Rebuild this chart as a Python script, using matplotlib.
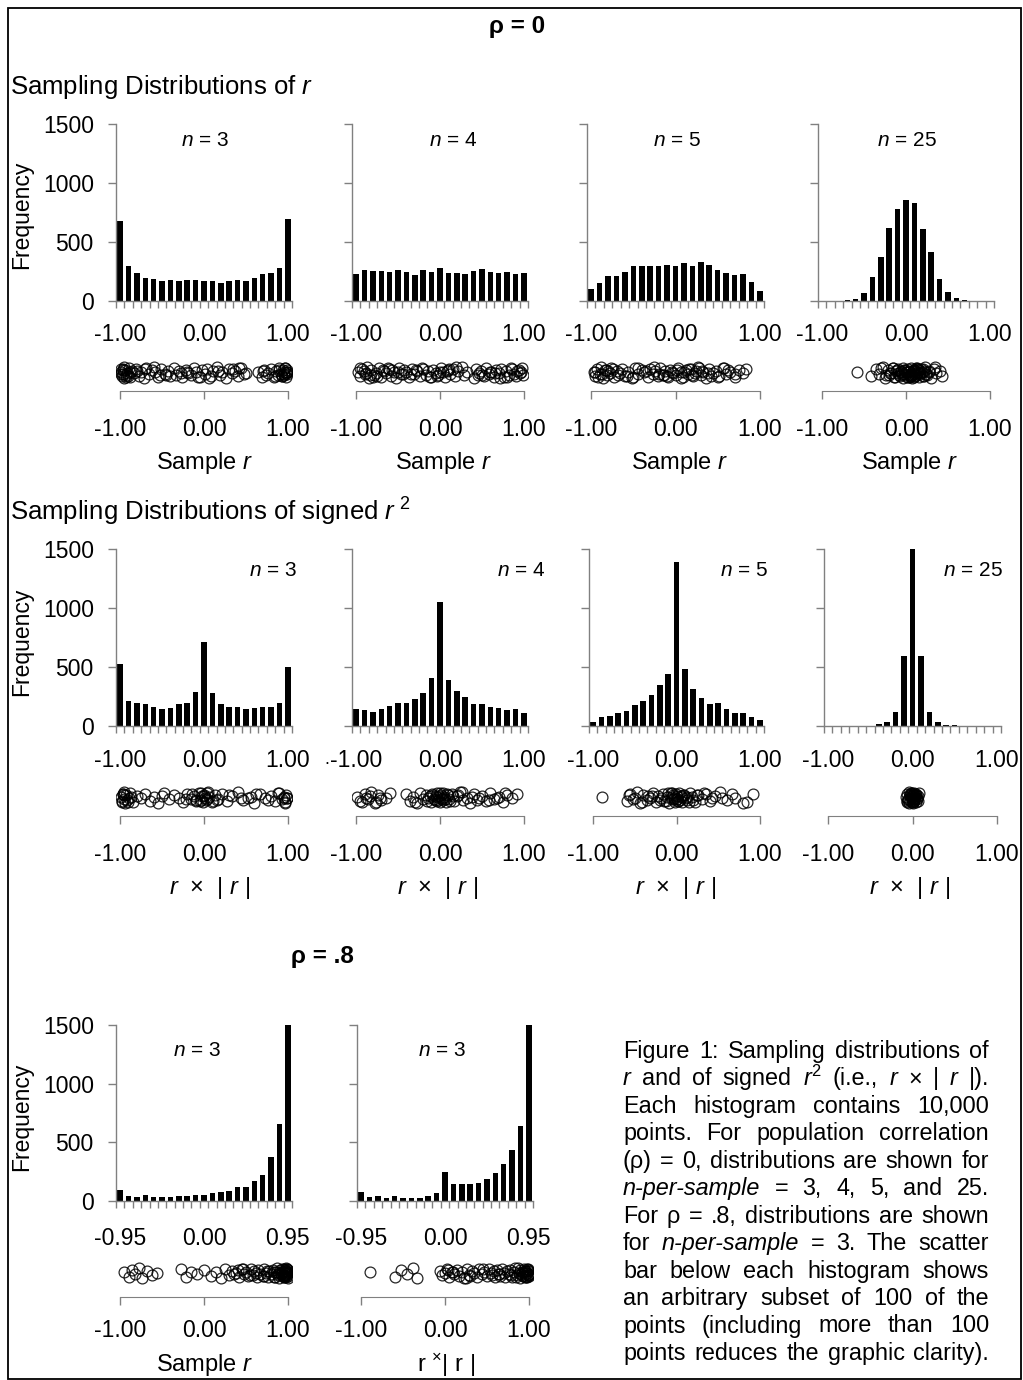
import numpy as np
import matplotlib.pyplot as plt
from matplotlib.patches import Rectangle

plt.rcParams['font.family'] = ['Liberation Sans', 'DejaVu Sans']
plt.rcParams['mathtext.fontset'] = 'custom'
plt.rcParams['mathtext.rm'] = 'Liberation Sans'
plt.rcParams['mathtext.it'] = 'Liberation Sans:italic'
plt.rcParams['mathtext.bf'] = 'Liberation Sans:bold'

W, H = 1023, 1380
GRAY = '#808080'

# ---- histogram counts (21 bins each) ----
# rho = 0, sample r
R_N3 = [679, 294, 241, 198, 190, 170, 175, 170, 175, 181, 170, 170, 153, 167, 181, 170, 198, 232, 241, 280, 693]
R_N4 = [226, 260, 252, 252, 243, 260, 243, 221, 266, 243, 277, 235, 235, 226, 252, 269, 243, 235, 243, 226, 235]
R_N5 = [99, 153, 209, 209, 249, 294, 300, 300, 300, 308, 297, 323, 294, 328, 303, 260, 241, 221, 226, 158, 82]
R_N25 = [0, 0, 0, 5, 20, 65, 201, 371, 620, 781, 855, 829, 614, 419, 190, 74, 23, 6, 0, 0, 0]
# rho = 0, signed r^2
S_N3 = [527, 215, 198, 184, 164, 142, 156, 190, 198, 289, 710, 283, 184, 164, 164, 142, 150, 164, 164, 198, 498]
S_N4 = [142, 133, 122, 147, 173, 198, 198, 229, 283, 408, 1047, 391, 300, 243, 184, 190, 164, 156, 139, 147, 108]
S_N5 = [31, 74, 82, 108, 130, 178, 209, 260, 345, 439, 1392, 484, 317, 235, 187, 192, 142, 110, 110, 74, 48]
S_N25 = [0, 0, 0, 0, 0, 0, 14, 31, 122, 589, 1500, 589, 122, 31, 8, 6, 0, 0, 0, 0, 0]
# rho = .8, n = 3
P8_R = [91, 43, 31, 51, 31, 31, 31, 40, 40, 51, 51, 68, 77, 83, 120, 120, 168, 222, 373, 660, 1500]
P8_S = [74, 34, 40, 26, 40, 26, 26, 26, 40, 65, 245, 145, 145, 145, 154, 185, 239, 316, 438, 635, 1500]

LABELS_R = ['-1.00', '0.00', '1.00']
LABELS_95 = ['-0.95', '0.00', '0.95']
YTICKS = [0, 500, 1000, 1500]

# ---- scatter-bar subsets (x values) ----
DOT_R_N3 = [-0.99, -0.98, -0.97, -0.97, -0.96, -0.95, -0.94, -0.93, -0.92, -0.9, -0.88, -0.86, -0.84, -0.81,
            -0.78, -0.75, -0.72, -0.69, -0.66, -0.62, -0.58, -0.55, -0.51, -0.47, -0.43, -0.4, -0.36, -0.33,
            -0.3, -0.26, -0.22, -0.19, -0.15, -0.12, -0.09, -0.05, -0.02, 0.01, 0.04, 0.08, 0.11, 0.15, 0.19,
            0.22, 0.26, 0.3, 0.33, 0.37, 0.4, 0.44, 0.48, 0.65, 0.69, 0.72, 0.76, 0.8, 0.83, 0.86, 0.88, 0.9,
            0.92, 0.93, 0.94, 0.95, 0.96, 0.97, 0.98, 0.98, 0.99, 0.99, -0.995, -0.985, -0.91, -0.8, -0.6,
            -0.45, -0.2, 0.06, 0.35, 0.5, 0.7, 0.85, 0.97, 0.995, -0.97, -0.93, -0.88, -0.7, -0.52, -0.28,
            -0.07, 0.17, 0.42, 0.74, 0.9, 0.96, 0.99, 0.93]
DOT_R_N4 = [-0.98, -0.95, -0.93, -0.9, -0.87, -0.85, -0.82, -0.79, -0.76, -0.73, -0.7, -0.67, -0.64, -0.61,
            -0.58, -0.55, -0.52, -0.49, -0.46, -0.43, -0.4, -0.37, -0.34, -0.31, -0.27, -0.24, -0.21, -0.17,
            -0.14, -0.11, -0.08, -0.05, -0.02, 0.01, 0.03, 0.06, 0.09, 0.12, 0.15, 0.18, 0.21, 0.26, 0.29,
            0.32, 0.4, 0.43, 0.46, 0.49, 0.52, 0.55, 0.58, 0.61, 0.64, 0.67, 0.7, 0.73, 0.76, 0.79, 0.82,
            0.85, 0.88, 0.91, 0.94, 0.97, 0.99, -0.96, -0.88, -0.8, -0.68, -0.5, -0.35, -0.2, -0.04, 0.08,
            0.19, 0.45, 0.6, 0.72, 0.86, 0.95, -0.91, -0.75, -0.62, -0.44, -0.29, -0.12, 0.0, 0.11, 0.5,
            0.66, 0.8, 0.92, 0.98, -0.84, -0.57]
DOT_R_N5 = [-0.97, -0.95, -0.93, -0.9, -0.88, -0.86, -0.84, -0.81, -0.78, -0.76, -0.73, -0.7, -0.66, -0.63,
            -0.6, -0.56, -0.52, -0.48, -0.44, -0.4, -0.37, -0.33, -0.3, -0.27, -0.24, -0.21, -0.18, -0.15,
            -0.12, -0.09, -0.06, -0.03, 0.0, 0.03, 0.06, 0.09, 0.12, 0.15, 0.18, 0.21, 0.24, 0.27, 0.3, 0.33,
            0.36, 0.4, 0.44, 0.48, 0.52, 0.56, 0.6, 0.65, 0.7, 0.75, 0.8, 0.84, -0.92, -0.8, -0.68, -0.45,
            -0.2, -0.1, 0.02, 0.1, 0.2, 0.28, 0.38, 0.5, 0.62, -0.96, -0.87, -0.74, -0.58, -0.35, -0.25,
            -0.14, -0.04, 0.07, 0.16, 0.23, 0.31, 0.42, 0.57, 0.71, -0.82, -0.5]
DOT_R_N25 = [-0.58, -0.42, -0.36, -0.32, -0.28, -0.25, -0.22, -0.2, -0.18, -0.16, -0.14, -0.12, -0.1, -0.09,
             -0.07, -0.06, -0.04, -0.03, -0.02, -0.01, 0.0, 0.01, 0.02, 0.03, 0.04, 0.05, 0.06, 0.07, 0.08,
             0.09, 0.1, 0.11, 0.12, 0.13, 0.14, 0.15, 0.16, 0.17, 0.18, 0.2, 0.21, 0.23, 0.25, 0.27, 0.3,
             0.33, 0.36, 0.4, 0.43, -0.15, -0.05, 0.0, 0.05, 0.1, 0.15, 0.2, 0.02, 0.08, -0.08, 0.12, 0.24,
             0.06, -0.11, 0.19, 0.03, -0.3, -0.19, -0.13, -0.02, 0.04, 0.09, 0.14, 0.22, 0.28, 0.35, -0.24,
             0.01, 0.07, 0.13, 0.17, -0.06, 0.11]
DOT_S_N3 = [-0.99, -0.98, -0.97, -0.96, -0.95, -0.94, -0.93, -0.92, -0.9, -0.88, -0.85, -0.8, -0.75, -0.7,
            -0.65, -0.6, -0.55, -0.48, -0.42, -0.36, -0.3, -0.25, -0.2, -0.16, -0.12, -0.09, -0.06, -0.04,
            -0.02, -0.01, 0.0, 0.01, 0.02, 0.04, 0.06, 0.09, 0.13, 0.17, 0.22, 0.27, 0.33, 0.4, 0.47, 0.53,
            0.6, 0.67, 0.73, 0.8, 0.85, 0.9, 0.93, 0.95, 0.97, 0.98, 0.99, -0.97, -0.91, -0.5, -0.1, -0.03,
            0.03, 0.11, 0.3, 0.56, 0.76, 0.88, 0.96, -0.98, -0.95, -0.87, -0.22, -0.14, -0.05, 0.0, 0.05,
            0.15, 0.99, 0.97, 0.62, 0.44]
DOT_S_N4 = [-0.99, -0.95, -0.9, -0.86, -0.82, -0.78, -0.74, -0.7, -0.65, -0.6, -0.93, -0.84, -0.72, -0.4,
            -0.36, -0.32, -0.28, -0.24, -0.2, -0.17, -0.14, -0.11, -0.09, -0.07, -0.05, -0.04, -0.03, -0.02,
            -0.01, 0.0, 0.01, 0.02, 0.03, 0.04, 0.05, 0.07, 0.09, 0.11, 0.14, 0.17, 0.2, 0.24, 0.28, 0.32,
            0.36, 0.41, 0.46, 0.5, 0.55, 0.6, 0.65, 0.7, 0.75, 0.8, 0.86, 0.92, -0.3, -0.12, -0.06, 0.0,
            0.06, 0.12, 0.22, 0.38, 0.58, 0.78, -0.88, -0.76, -0.08, -0.03, 0.02, 0.08, -0.15, 0.15, 0.26,
            0.44, 0.68]
DOT_S_N5 = [-0.89, -0.6, -0.56, -0.52, -0.48, -0.44, -0.4, -0.36, -0.32, -0.28, -0.25, -0.22, -0.19, -0.16,
            -0.13, -0.11, -0.09, -0.07, -0.05, -0.04, -0.03, -0.02, -0.01, 0.0, 0.01, 0.02, 0.03, 0.04, 0.05,
            0.07, 0.09, 0.11, 0.13, 0.16, 0.19, 0.22, 0.26, 0.3, 0.35, 0.4, 0.46, 0.52, 0.6, 0.7, 0.8, 0.92,
            -0.5, -0.3, -0.15, -0.06, 0.0, 0.06, 0.15, 0.25, 0.42, 0.66, -0.42, -0.34, -0.2, -0.1, -0.03,
            0.02, 0.08, 0.12, 0.2, 0.33, 0.55, 0.85, -0.57, -0.05]
DOT_S_N25 = [-0.08, -0.07, -0.06, -0.05, -0.04, -0.04, -0.03, -0.03, -0.02, -0.02, -0.01, -0.01, 0.0, 0.0,
             0.0, 0.01, 0.01, 0.02, 0.02, 0.03, 0.03, 0.04, 0.04, 0.05, 0.06, 0.07, 0.08, -0.05, -0.02, 0.0,
             0.02, 0.05, 0.01, -0.01, 0.03, -0.06, 0.04, 0.0, -0.03, 0.02]
DOT_P8_R = [-0.95, -0.9, -0.86, -0.82, -0.78, -0.74, -0.68, -0.62, -0.56, -0.28, -0.22, -0.15, -0.08, 0.0,
            0.08, 0.14, 0.2, 0.25, 0.3, 0.34, 0.38, 0.42, 0.45, 0.48, 0.5, 0.53, 0.56, 0.58, 0.6, 0.63, 0.65,
            0.67, 0.7, 0.72, 0.74, 0.76, 0.78, 0.8, 0.82, 0.84, 0.86, 0.87, 0.88, 0.89, 0.9, 0.91, 0.92, 0.93,
            0.94, 0.95, 0.95, 0.96, 0.96, 0.97, 0.97, 0.98, 0.98, 0.98, 0.99, 0.99, 0.99, 1.0, 1.0, 1.0, 0.97,
            0.93, 0.88, 0.85, 0.75, 0.62, 0.55, 0.4, 0.96, 0.99, 0.98, 0.94, 0.99, 1.0, 0.97, 0.92, 0.83,
            0.71, 0.46, 0.36]
DOT_P8_S = [-0.9, -0.6, -0.52, -0.45, -0.38, -0.33, -0.06, -0.03, 0.0, 0.02, 0.05, 0.08, 0.11, 0.14, 0.17,
            0.2, 0.23, 0.26, 0.29, 0.32, 0.35, 0.38, 0.41, 0.44, 0.47, 0.5, 0.53, 0.56, 0.58, 0.6, 0.62, 0.64,
            0.66, 0.68, 0.7, 0.72, 0.74, 0.76, 0.78, 0.8, 0.82, 0.84, 0.86, 0.88, 0.89, 0.9, 0.91, 0.92, 0.93,
            0.94, 0.95, 0.96, 0.96, 0.97, 0.97, 0.98, 0.98, 0.99, 0.99, 0.99, 1.0, 1.0, 0.04, 0.1, 0.3, 0.45,
            0.65, 0.85, 0.95, 0.98, 1.0, 0.99, 0.97, 0.93, 0.87, 0.79, 0.55, 0.25]
# vertical jitter of the circles (0.33 .. 0.67)
JITTER = [0.52, 0.38, 0.61, 0.45, 0.66, 0.33, 0.57, 0.42, 0.49, 0.63, 0.36, 0.55, 0.47, 0.6, 0.4, 0.53, 0.34,
          0.64, 0.44, 0.58, 0.5, 0.37, 0.62, 0.46, 0.54, 0.39, 0.65, 0.43, 0.56, 0.35, 0.59, 0.48, 0.41, 0.63,
          0.51, 0.36, 0.57, 0.45, 0.61, 0.38, 0.54, 0.66, 0.42, 0.5, 0.34, 0.6, 0.47, 0.55, 0.4, 0.64, 0.44,
          0.52, 0.37, 0.58, 0.49, 0.62, 0.35, 0.56, 0.43, 0.65, 0.46, 0.39, 0.59, 0.53, 0.41, 0.63, 0.48, 0.36,
          0.57, 0.51, 0.44, 0.61, 0.38, 0.55, 0.66, 0.42, 0.5, 0.34, 0.6, 0.47, 0.54, 0.4, 0.64, 0.45, 0.58,
          0.37, 0.52, 0.62, 0.43, 0.49, 0.35, 0.56, 0.65, 0.41, 0.59, 0.46, 0.53, 0.39, 0.63, 0.48]

CAPTION = [
    [('Figure', 0), ('1:', 0), ('Sampling', 0), ('distributions', 0), ('of', 0)],
    [('r', 1), ('and', 0), ('of', 0), ('signed', 0), (r'$\mathit{r}^{2}$', 0), ('(i.e.,', 0), ('r', 1),
     ('×', 0), ('|', 0), ('r', 1), ('|).', 0)],
    [('Each', 0), ('histogram', 0), ('contains', 0), ('10,000', 0)],
    [('points.', 0), ('For', 0), ('population', 0), ('correlation', 0)],
    [('(ρ)', 0), ('=', 0), ('0,', 0), ('distributions', 0), ('are', 0), ('shown', 0), ('for', 0)],
    [('n-per-sample', 1), ('=', 0), ('3,', 0), ('4,', 0), ('5,', 0), ('and', 0), ('25.', 0)],
    [('For', 0), ('ρ', 0), ('=', 0), ('.8,', 0), ('distributions', 0), ('are', 0), ('shown', 0)],
    [('for', 0), ('n-per-sample', 1), ('=', 0), ('3.', 0), ('The', 0), ('scatter', 0)],
    [('bar', 0), ('below', 0), ('each', 0), ('histogram', 0), ('shows', 0)],
    [('an', 0), ('arbitrary', 0), ('subset', 0), ('of', 0), ('100', 0), ('of', 0), ('the', 0)],
    [('points', 0), ('(including', 0), ('more', 0), ('than', 0), ('100', 0)],
    [('points', 0), ('reduces', 0), ('the', 0), ('graphic', 0), ('clarity).', 0)],
]

fig = plt.figure(figsize=(W / 100, H / 100), dpi=100)


def px_axes(x0, y0, x1, y1):
    return fig.add_axes([x0 / W, 1 - y1 / H, (x1 - x0) / W, (y1 - y0) / H])


def ftext(x, y, s, **kw):
    return fig.text(x / W, 1 - y / H, s, **kw)


def histogram(x0, x1, ytop, ybot, counts, labels, pad, show_y):
    ax = px_axes(x0, ytop, x1, ybot)
    ax.bar(np.arange(len(counts)), counts, width=0.66, color='black', linewidth=0)
    ax.set_xlim(-0.5, len(counts) - 0.5)
    ax.set_ylim(0, 1500)
    for s in ['top', 'right']:
        ax.spines[s].set_visible(False)
    for s in ['left', 'bottom']:
        ax.spines[s].set_color(GRAY)
        ax.spines[s].set_linewidth(1)
    ax.set_xticks([0, 10, 20])
    ax.set_xticklabels(labels)
    ax.set_xticks(np.arange(-0.5, len(counts)), minor=True)
    ax.tick_params(axis='x', which='major', length=0, pad=pad, labelsize=16.5)
    ax.tick_params(axis='x', which='minor', length=5, width=1, color=GRAY, direction='out')
    ax.set_yticks(YTICKS)
    ax.tick_params(axis='y', length=6, width=1, color=GRAY, pad=10, labelsize=16.5)
    if not show_y:
        ax.set_yticklabels([])
    ax.patch.set_visible(False)
    return ax


def scatter_bar(x0, x1, yline, xs, c, s, pad):
    h = 45
    ax = px_axes(x0, yline - h, x1, yline)
    ax.plot(xs, JITTER[:len(xs)], 'o', ms=7.8, mfc='none', mec='black', mew=0.9, alpha=0.85)
    span = 0.34 * h / s
    lo = 0.5 - c * span / h
    ax.set_ylim(lo, lo + span)
    ax.set_xlim(-1.05, 1.05)
    for sp in ['top', 'right', 'left']:
        ax.spines[sp].set_visible(False)
    ax.spines['bottom'].set_bounds(-1, 1)
    ax.spines['bottom'].set_color(GRAY)
    ax.set_yticks([])
    ax.set_xticks([-1, 0, 1])
    ax.set_xticklabels(LABELS_R)
    ax.tick_params(axis='x', length=6, width=1, color=GRAY, pad=pad, labelsize=16.5)
    ax.patch.set_visible(False)
    return ax


# ---- rho = 0 : sample r ----
row1 = [(116, 292, R_N3, DOT_R_N3), (352, 528, R_N4, DOT_R_N4),
        (587, 764, R_N5, DOT_R_N5), (818, 994, R_N25, DOT_R_N25)]
for i, (x0, x1, cnt, dots) in enumerate(row1):
    histogram(x0, x1, 124, 301, cnt, LABELS_R, 15.5, i == 0)
    scatter_bar(x0, x1, 391, dots, 18.5, 11, 13.5)

# ---- rho = 0 : signed r^2 ----
row2 = [(116, 292, S_N3, DOT_S_N3), (352, 528, S_N4, DOT_S_N4),
        (589, 764, S_N5, DOT_S_N5), (824, 1001, S_N25, DOT_S_N25)]
for i, (x0, x1, cnt, dots) in enumerate(row2):
    histogram(x0, x1, 549, 726, cnt, LABELS_R, 16.5, i == 0)
    scatter_bar(x0, x1, 816, dots, 18.5, 11, 13.5)

# ---- rho = .8 ----
row3 = [(116, 292, P8_R, DOT_P8_R), (357, 533, P8_S, DOT_P8_S)]
for i, (x0, x1, cnt, dots) in enumerate(row3):
    histogram(x0, x1, 1025, 1201, cnt, LABELS_95, 18.5, i == 0)
    scatter_bar(x0, x1, 1297, dots, 24, 10, 9.5)

# ---- texts ----
ftext(517, 27, 'ρ = 0', fontsize=17.5, fontweight='bold', ha='center', va='center')
ftext(322, 957, 'ρ = .8', fontsize=17.5, fontweight='bold', ha='center', va='center')
ftext(10, 87, r'Sampling Distributions of $\mathit{r}$', fontsize=18.5, ha='left', va='center')
ftext(10, 512, r'Sampling Distributions of signed $\mathit{r}^{\ \mathit{2}}$', fontsize=18.5,
      ha='left', va='center')

for y in [215, 642, 1117]:
    ftext(22, y, 'Frequency', fontsize=16.5, rotation=90, ha='center', va='center')

for x, lab in zip([205, 453, 677, 907], ['3', '4', '5', '25']):
    ftext(x, 140, r'$\mathit{n}$ = ' + lab, fontsize=15, ha='center', va='center')
for x, lab in zip([297, 545, 768, 1003], ['3', '4', '5', '25']):
    ftext(x, 570, r'$\mathit{n}$ = ' + lab, fontsize=15, ha='right', va='center')
for x in [197, 442]:
    ftext(x, 1050, r'$\mathit{n}$ = 3', fontsize=15, ha='center', va='center')

for x in [205, 444, 680, 910]:
    ftext(x, 463, r'Sample $\mathit{r}$', fontsize=17, ha='center', va='center')
for x in [210, 438, 676, 910]:
    ftext(x, 888, r'$\mathit{r}$  ×  | $\mathit{r}$ |', fontsize=17, ha='center', va='center')
ftext(205, 1365, r'Sample $\mathit{r}$', fontsize=17, ha='center', va='center')
ftext(446, 1365, r'r $^{\times}$| r |', fontsize=17, ha='center', va='center')
ftext(327, 760, '.', fontsize=13, ha='center', va='center')

# ---- justified caption ----
renderer = fig.canvas.get_renderer()
cap_x0, cap_x1, cap_y0, cap_dy = 623, 989, 1058, 27.45
for k, tokens in enumerate(CAPTION):
    arts, widths = [], []
    for word, it in tokens:
        t = ftext(0, cap_y0 + k * cap_dy, word, fontsize=16.8,
                  style='italic' if it else 'normal', ha='left', va='baseline')
        arts.append(t)
        widths.append(t.get_window_extent(renderer).width)
    gap = (cap_x1 - cap_x0 - sum(widths)) / (len(arts) - 1)
    x = cap_x0
    for t, w in zip(arts, widths):
        t.set_x(x / W)
        x += w + gap

# outer frame
fig.add_artist(Rectangle((8 / W, 1 / H), 1013 / W, 1371 / H, transform=fig.transFigure,
                         fill=False, edgecolor='black', linewidth=1.3))

fig.savefig('out.png', dpi=100)
